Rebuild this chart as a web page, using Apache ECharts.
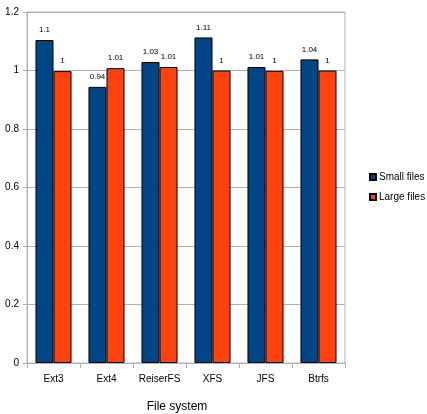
<!DOCTYPE html>
<html>
<head>
<meta charset="utf-8">
<script src="https://cdn.jsdelivr.net/npm/echarts@6/dist/echarts.min.js"></script>
<style>
  html, body { margin: 0; padding: 0; background: #fff; }
  #chart { width: 427px; height: 414px; }
</style>
</head>
<body>
<div id="chart"></div>
<script>
const categories = ['Ext3', 'Ext4', 'ReiserFS', 'XFS', 'JFS', 'Btrfs'];
const smallFiles = [1.104, 0.944, 1.029, 1.113, 1.012, 1.038];
const largeFiles = [0.998, 1.008, 1.012, 1.0, 0.999, 1.0];
const yTicks = { min: 0, max: 1.2, interval: 0.2 };

const FONT = 'Liberation Sans, Arial, sans-serif';

function barSeries(name, data, color) {
  return {
    name: name,
    type: 'bar',
    data: data,
    barGap: '0%',
    barCategoryGap: '32%',
    itemStyle: { color: color, borderColor: '#000', borderWidth: 1 },
    label: {
      show: true,
      position: 'top',
      distance: 6,
      fontSize: 8,
      fontFamily: FONT,
      color: '#000',
      formatter: p => String(parseFloat(p.value.toFixed(2)))
    }
  };
}

const chart = echarts.init(document.getElementById('chart'));
chart.setOption({
  animation: false,
  backgroundColor: '#fff',
  textStyle: { fontFamily: FONT },
  grid: {
    left: 27, right: 82, top: 12, bottom: 51,
    show: true, borderColor: '#b3b3b3', borderWidth: 1
  },
  title: {
    text: 'File system',
    left: 172, top: 396, textAlign: 'center',
    textStyle: { fontSize: 12, fontWeight: 'normal', color: '#000', fontFamily: FONT }
  },
  legend: {
    orient: 'vertical',
    left: 364, top: 167,
    itemWidth: 6, itemHeight: 6, itemGap: 10,
    icon: 'rect',
    textStyle: { fontSize: 10, color: '#000', padding: [0, 0, 0, -2] },
    data: ['Small files', 'Large files']
  },
  xAxis: {
    type: 'category',
    data: categories,
    axisLine: { lineStyle: { color: '#b3b3b3' } },
    axisTick: { show: true, length: 5, lineStyle: { color: '#b3b3b3' } },
    axisLabel: { color: '#000', fontSize: 10, margin: 11, interval: 0 }
  },
  yAxis: {
    type: 'value',
    min: yTicks.min, max: yTicks.max, interval: yTicks.interval,
    axisLine: { show: true, lineStyle: { color: '#b3b3b3' } },
    axisTick: { show: true, length: 4, lineStyle: { color: '#b3b3b3' } },
    axisLabel: { color: '#000', fontSize: 10, margin: 8 },
    splitLine: { lineStyle: { color: '#b3b3b3' } }
  },
  series: [
    barSeries('Small files', smallFiles, '#004586'),
    barSeries('Large files', largeFiles, '#ff420e')
  ]
});
</script>
</body>
</html>
